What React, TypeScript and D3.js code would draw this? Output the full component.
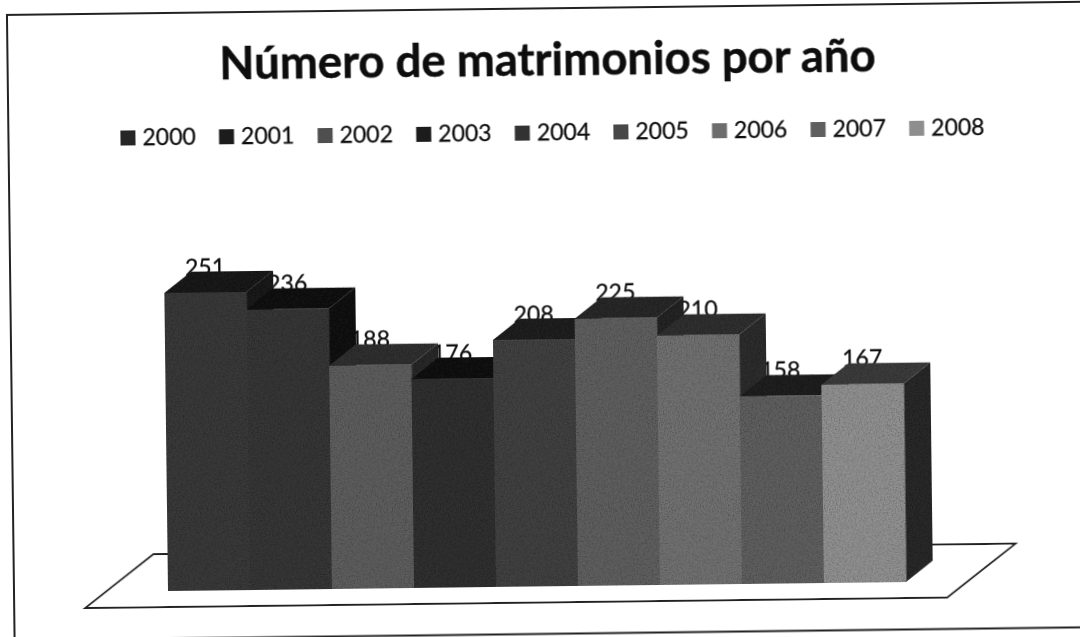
import React from "react";
import * as d3 from "d3";

const years = ["2000", "2001", "2002", "2003", "2004", "2005", "2006", "2007", "2008"];
const matrimonios = [251, 236, 188, 176, 208, 225, 210, 158, 167];
const frontColors = ["#3a3a3a", "#373737", "#5e5e5e", "#323232", "#424242", "#606060", "#727272", "#606060", "#929292"];
const topColors = ["#1d1d1d", "#191919", "#333333", "#161616", "#222222", "#2a2a2a", "#333333", "#232323", "#3e3e3e"];
const sideColors = ["#1a1a1a", "#161616", "#2c2c2c", "#141414", "#1e1e1e", "#262626", "#2f2f2f", "#202020", "#2b2b2b"];
const legendColors = ["#262626", "#1f1f1f", "#505050", "#1c1c1c", "#333333", "#474747", "#6c6c6c", "#5f5f5f", "#8e8e8e"];
const title = "Número de matrimonios por año";

const W = 1080, H = 637;
const baseX = 168, baseY = 591, barsEnd = 906;
const depthX = 27, depthY = -21;
const font = "Lato, sans-serif";

export default function App() {
  const x = d3.scaleBand<string>().domain(years).range([baseX, barsEnd]);
  const y = d3.scaleLinear().domain([0, 251]).range([baseY, baseY - 298]);
  const legendX = d3.scaleBand<string>().domain(years).range([148, 148 + 98.6 * 9]);
  const bw = x.bandwidth();
  const line = d3.line();

  const poly = (pts: [number, number][]) => line(pts) + "Z";

  return (
    <svg width={W} height={H} style={{ position: "absolute", left: 0, top: 0, background: "#fff" }}>
      <defs>
        <filter id="grain" x="0" y="0" width="100%" height="100%">
          <feTurbulence type="fractalNoise" baseFrequency="0.75" numOctaves={2} seed={4} result="n" />
          <feColorMatrix in="n" type="matrix" values="0 0 0 0 0  0 0 0 0 0  0 0 0 0 0  0 0 0 1.1 -0.42" result="d" />
          <feComposite in="d" in2="SourceAlpha" operator="in" result="dd" />
          <feMerge result="m">
            <feMergeNode in="SourceGraphic" />
            <feMergeNode in="dd" />
          </feMerge>
          <feGaussianBlur in="m" stdDeviation="0.5" />
        </filter>
        <filter id="soft"><feGaussianBlur stdDeviation="0.45" /></filter>
      </defs>
      <g transform={`rotate(-0.7 ${baseX} ${baseY})`}>
        <rect x={14} y={13} width={1130} height={625.5} fill="none" stroke="#222" strokeWidth={2} filter="url(#soft)" />
        <text x={554} y={80} textAnchor="middle" fontFamily={font} fontWeight={700} fontSize={45.5} fill="#111" stroke="#111" strokeWidth={0.5} filter="url(#soft)">
          {title}
        </text>

        <g filter="url(#soft)">
          {years.map((yr, i) => (
            <g key={yr}>
              <rect x={(legendX(yr) as number) - 22} y={130} width={15} height={15} fill={legendColors[i]} />
              <text x={legendX(yr) as number} y={145} fontFamily={font} fontSize={23} fill="#111" stroke="#111" strokeWidth={0.3}>{yr}</text>
            </g>
          ))}
        </g>

        <path
          d={poly([
            [85, baseY + 16],
            [947, baseY + 16],
            [947 + 69, baseY - 37],
            [85 + 69, baseY - 37],
          ])}
          fill="#fff"
          stroke="#222"
          strokeWidth={1.8}
          filter="url(#soft)"
        />

        <g filter="url(#soft)">
          {years.map((yr, i) => (
            <text key={yr} x={(x(yr) as number) + bw / 2} y={y(matrimonios[i]) - 17.5} textAnchor="middle" fontFamily={font} fontSize={23} fill="#111" stroke="#111" strokeWidth={0.3}>
              {matrimonios[i]}
            </text>
          ))}
        </g>

        <g filter="url(#grain)">
          {years.map((yr, i) => {
            const x0 = x(yr) as number;
            const x1 = x0 + bw;
            const t = y(matrimonios[i]);
            return (
              <g key={yr}>
                <path d={poly([[x1, t], [x1 + depthX, t + depthY], [x1 + depthX, baseY + depthY], [x1, baseY]])} fill={sideColors[i]} />
                <path d={poly([[x0, t], [x0 + depthX, t + depthY], [x1 + depthX, t + depthY], [x1, t]])} fill={topColors[i]} />
                <rect x={x0} y={t} width={bw + 0.5} height={baseY - t} fill={frontColors[i]} />
              </g>
            );
          })}
        </g>
      </g>
    </svg>
  );
}
